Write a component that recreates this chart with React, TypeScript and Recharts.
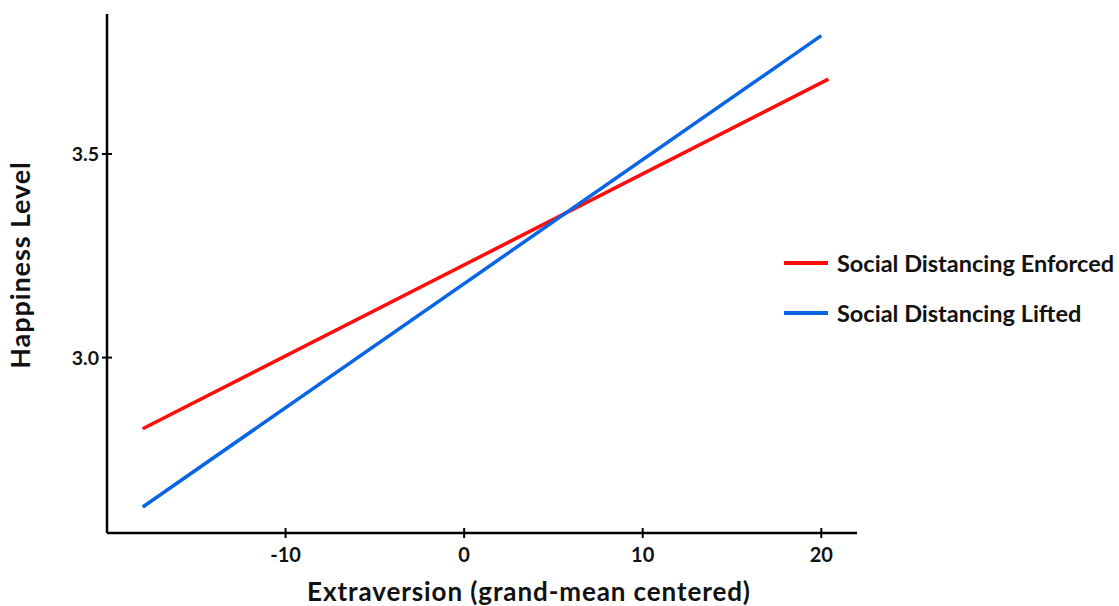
import React from 'react';
import { LineChart, Line, XAxis, YAxis, Label } from 'recharts';

const xTicks = [-10, 0, 10, 20];
const yTicks = [3.0, 3.5];
const xDomain = [-20, 22];
const yDomain = [2.569, 3.844];

const enforcedX = [-18, 20.4];
const enforcedY = [2.825, 3.684];
const liftedX = [-18, 20.0];
const liftedY = [2.633, 3.791];

const seriesNames = ['Social Distancing Enforced', 'Social Distancing Lifted'];
const seriesColors = ['#ff0d0d', '#0a64e6'];

const enforcedData = enforcedX.map((x, i) => ({ x, y: enforcedY[i] }));
const liftedData = liftedX.map((x, i) => ({ x, y: liftedY[i] }));

const FONT = 'Lato, "Open Sans", sans-serif';

const XTick = (props: any) => {
  const { x, y, payload } = props;
  return (
    <g>
      <line x1={x} x2={x} y1={y - 5} y2={y + 5} stroke="#000" strokeWidth={2} />
      <text x={x} y={y + 29} textAnchor="middle" fontFamily={FONT} fontWeight={700} fontSize={20} fill="#111">
        {payload.value}
      </text>
    </g>
  );
};

const YTick = (props: any) => {
  const { x, y, payload } = props;
  return (
    <g>
      <line x1={x - 5} x2={x + 5} y1={y} y2={y} stroke="#000" strokeWidth={2} />
      <text x={x - 8} y={y + 7} textAnchor="end" fontFamily={FONT} fontWeight={700} fontSize={19.5} fill="#111">
        {Number(payload.value).toFixed(1)}
      </text>
    </g>
  );
};

const LegendBox = () => (
  <div
    style={{
      position: 'absolute',
      left: 784,
      top: 238,
      fontFamily: FONT,
      fontWeight: 700,
      fontSize: 23.5,
      color: '#111',
      whiteSpace: 'nowrap',
    }}
  >
    {seriesNames.map((n, i) => (
      <div key={n} style={{ display: 'flex', alignItems: 'center', height: 50 }}>
        <div style={{ width: 44, height: 4, background: seriesColors[i], marginRight: 9 }} />
        <span>{n}</span>
      </div>
    ))}
  </div>
);

export default function App() {
  return (
    <div style={{ position: 'absolute', left: 0, top: 0, width: 1119, height: 606, background: '#fff' }}>
      <LineChart width={1119} height={606} margin={{ top: 14, right: 262, bottom: 0, left: 0 }}>
        <XAxis
          type="number"
          dataKey="x"
          domain={xDomain}
          ticks={xTicks}
          allowDataOverflow
          height={73}
          axisLine={{ stroke: '#000', strokeWidth: 2.5 }}
          tickLine={false}
          tickSize={0}
          tickMargin={0}
          tick={<XTick />}
        >
          <Label
            content={(p: any) => {
              const vb = p.viewBox;
              return (
                <text
                  x={vb.x + 422}
                  y={vb.y + 68}
                  textAnchor="middle"
                  fontFamily={FONT}
                  fontWeight={700}
                  fontSize={26}
                  letterSpacing={0.9}
                  fill="#111"
                >
                  Extraversion (grand-mean centered)
                </text>
              );
            }}
          />
        </XAxis>
        <YAxis
          type="number"
          dataKey="y"
          domain={yDomain}
          ticks={yTicks}
          allowDataOverflow
          width={107}
          axisLine={{ stroke: '#000', strokeWidth: 2.5 }}
          tickLine={false}
          tickSize={0}
          tickMargin={0}
          tick={<YTick />}
        >
          <Label
            content={() => (
              <text
                x={30}
                y={265}
                transform="rotate(-90 30 265)"
                textAnchor="middle"
                fontFamily={FONT}
                fontWeight={700}
                fontSize={27}
                letterSpacing={0.9}
                fill="#111"
              >
                Happiness Level
              </text>
            )}
          />
        </YAxis>
        <Line
          data={enforcedData}
          dataKey="y"
          name={seriesNames[0]}
          stroke={seriesColors[0]}
          strokeWidth={3.5}
          dot={false}
          isAnimationActive={false}
        />
        <Line
          data={liftedData}
          dataKey="y"
          name={seriesNames[1]}
          stroke={seriesColors[1]}
          strokeWidth={3.5}
          dot={false}
          isAnimationActive={false}
        />
      </LineChart>
      <LegendBox />
    </div>
  );
}
